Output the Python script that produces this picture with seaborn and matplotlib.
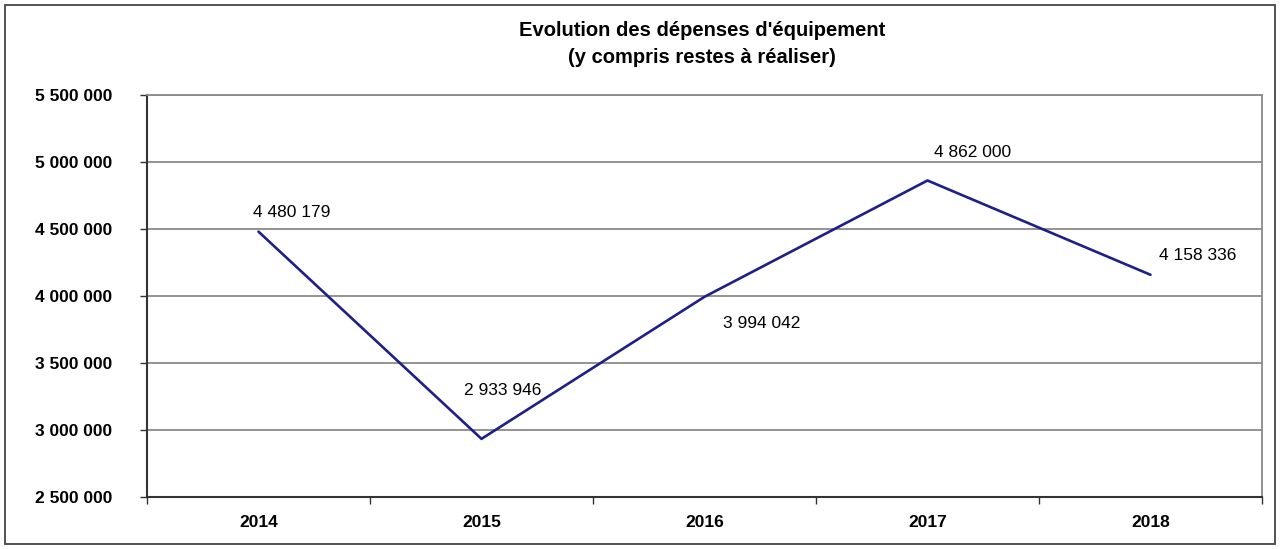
import pandas as pd
import numpy as np
import matplotlib
matplotlib.use("Agg")
import matplotlib.pyplot as plt
import seaborn as sns
from matplotlib.patches import Rectangle

## Evolution des dépenses d'équipement (y compris restes à réaliser)

annees = ["2014", "2015", "2016", "2017", "2018"]
depenses = [4480179, 2933946, 3994042, 4862000, 4158336]
y_ticks = [2500000, 3000000, 3500000, 4000000, 4500000, 5000000, 5500000]
# label offsets (points) and alignment for each data label
label_offsets = [(-4, 14, "left"), (15, 35, "center"), (13, -19, "left"), (5, 20, "left"), (6, 14, "left")]

df = pd.DataFrame({"annee": annees, "depenses": depenses})

def fmt(v):
    return f"{v:,}".replace(",", " ")

sns.set_style("white")
plt.rcParams["font.family"] = ["Liberation Sans", "DejaVu Sans"]

fig = plt.figure(figsize=(12.81, 5.49), dpi=100)
ax = fig.add_axes([147 / 1281, 52 / 549, 1115 / 1281, 402 / 549])

sns.lineplot(data=df, x="annee", y="depenses", color="#1f1f85", linewidth=1.9, ax=ax)

ax.set_xlim(-0.5, len(annees) - 0.5)
ax.set_ylim(y_ticks[0], y_ticks[-1])
ax.set_yticks(y_ticks)
ax.set_yticklabels([fmt(t) for t in y_ticks], fontsize=12.5, fontweight="bold", color="black")
ax.set_xticks(range(len(annees)))
ax.set_xticklabels(annees, fontsize=12.5, fontweight="bold", color="black")
ax.set_xticks(np.arange(-0.5, len(annees)), minor=True)
ax.tick_params(axis="x", which="major", bottom=True, length=0, pad=13)
ax.tick_params(axis="x", which="minor", bottom=True, length=5, width=1, color="#333333", direction="out")
ax.tick_params(axis="y", which="major", left=True, length=5, width=1, color="#333333", direction="out", pad=20)
ax.set_xlabel("")
ax.set_ylabel("")

ax.yaxis.grid(True, color="#8a8a8a", linewidth=1.3)
ax.set_axisbelow(True)
for side in ["left", "bottom"]:
    ax.spines[side].set_color("#333333")
    ax.spines[side].set_linewidth(1.5)
ax.spines["top"].set_color("#8a8a8a")
ax.spines["top"].set_linewidth(1.3)
ax.spines["right"].set_color("#8a8a8a")
ax.spines["right"].set_linewidth(1.3)

for i, (v, (dx, dy, ha)) in enumerate(zip(depenses, label_offsets)):
    ax.annotate(fmt(v), xy=(i, v), xytext=(dx, dy), textcoords="offset points",
                ha=ha, va="center", fontsize=12.5, color="black")

fig.text(702 / 1281, 1 - 44 / 549, "Evolution des dépenses d'équipement\n(y compris restes à réaliser)",
         ha="center", va="center", fontsize=14.5, fontweight="bold", linespacing=1.6, color="black")

fig.patches.append(Rectangle((5 / 1281, 5 / 549), 1270 / 1281, 539 / 549, transform=fig.transFigure,
                             fill=False, edgecolor="#444444", linewidth=1.3))

plt.savefig("out.png", dpi=100)
